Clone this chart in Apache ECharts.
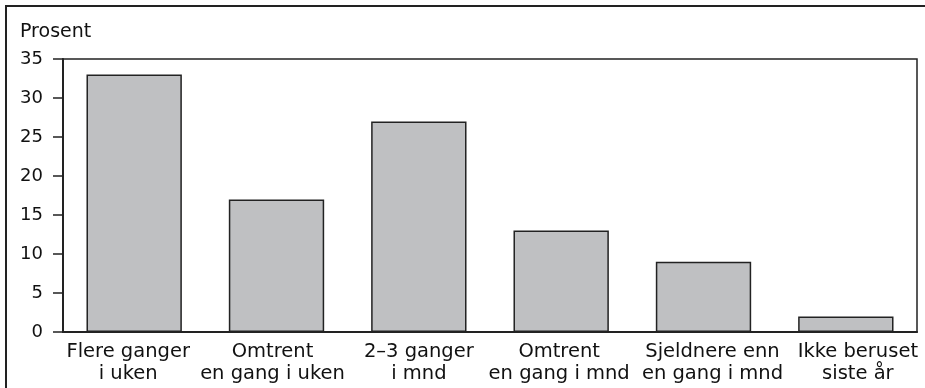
<!DOCTYPE html>
<html>
<head>
<meta charset="utf-8">
<script src="https://cdn.jsdelivr.net/npm/echarts@6/dist/echarts.min.js"></script>
<style>
  html, body { margin: 0; padding: 0; background: #fff; }
  #chart { width: 925px; height: 388px; }
</style>
</head>
<body>
<div id="chart"></div>
<script>
// Hyppighet av beruselse, prosent
const categories = [
  'Flere ganger\ni uken',
  'Omtrent\nen gang i uken',
  '2–3 ganger\ni mnd',
  'Omtrent\nen gang i mnd',
  'Sjeldnere enn\nen gang i mnd',
  'Ikke beruset\nsiste år'
];
const values = [33, 17, 27, 13, 9, 2];
const yTicks = { min: 0, max: 35, step: 5 };
const yTitle = 'Prosent';

// small horizontal nudges (px) so neighbouring two-line labels don't collide
const labelShift = [-6, -4, 0, -2, 9, 12];

const font = '"DejaVu Sans", "Noto Sans", sans-serif';
const chart = echarts.init(document.getElementById('chart'), null, { renderer: 'canvas' });

const categoryData = categories.map((c, i) => {
  const s = labelShift[i];
  return {
    value: c,
    textStyle: { padding: s >= 0 ? [0, 0, 0, 2 * s] : [0, -2 * s, 0, 0] }
  };
});

chart.setOption({
  animation: false,
  backgroundColor: '#fff',
  graphic: [
    {
      type: 'rect',
      shape: { x: 6, y: 6, width: 1000, height: 1000 },
      style: { fill: 'none', stroke: '#222', lineWidth: 2 },
      silent: true
    },
    {
      type: 'text',
      left: 20, top: 23,
      style: { text: yTitle, font: '19px ' + font, fill: '#111' }
    }
  ],
  grid: {
    left: 63, right: 8, top: 59, bottom: 56,
    show: true, borderColor: '#222', borderWidth: 1.5, backgroundColor: 'transparent'
  },
  xAxis: {
    type: 'category',
    data: categoryData,
    axisLine: { lineStyle: { color: '#222', width: 2 } },
    axisTick: { show: false },
    axisLabel: {
      color: '#111', fontFamily: font, fontSize: 19.5, lineHeight: 22,
      margin: 9, interval: 0
    }
  },
  yAxis: {
    type: 'value',
    min: yTicks.min, max: yTicks.max, interval: yTicks.step,
    splitLine: { show: false },
    axisLine: { show: true, lineStyle: { color: '#222', width: 2 } },
    axisTick: { show: true, length: 10, lineStyle: { color: '#222', width: 1.5 } },
    axisLabel: { color: '#111', fontFamily: font, fontSize: 18, margin: 20 }
  },
  series: [{
    type: 'bar',
    data: values,
    barWidth: '67%',
    itemStyle: { color: '#bfc0c2', borderColor: '#222', borderWidth: 1.5 }
  }]
});
</script>
</body>
</html>
